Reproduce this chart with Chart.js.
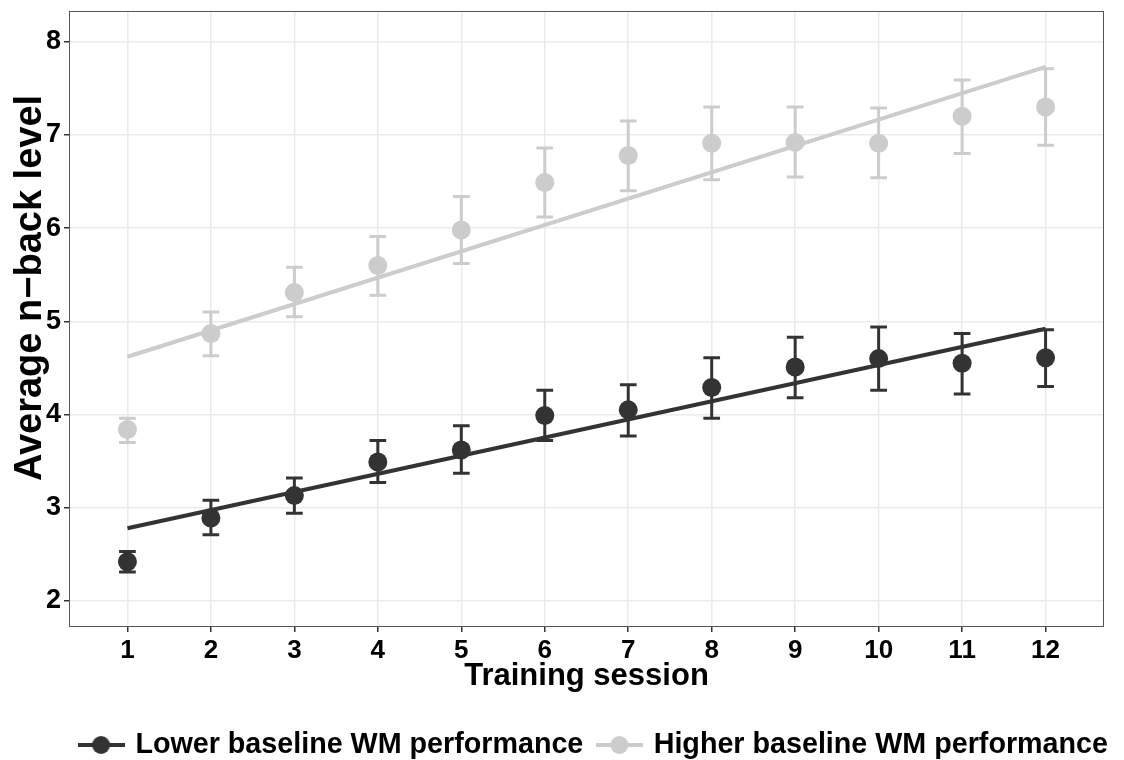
<!DOCTYPE html>
<html>
<head>
<meta charset="utf-8">
<script src="https://cdn.jsdelivr.net/npm/chart.js@4.4.1/dist/chart.umd.min.js"></script>
<style>
  html, body { margin: 0; padding: 0; background: #ffffff; }
  #wrap { width: 1124px; height: 760px; position: relative; }
</style>
</head>
<body>
<div id="wrap"><canvas id="c"></canvas></div>
<script>
// ---- data ----
const sessions = [1, 2, 3, 4, 5, 6, 7, 8, 9, 10, 11, 12];
const yTicks = [2, 3, 4, 5, 6, 7, 8];

const lowMean  = [2.42, 2.89, 3.13, 3.49, 3.62, 3.99, 4.05, 4.29, 4.51, 4.60, 4.55, 4.61];
const lowUpper = [2.53, 3.08, 3.32, 3.72, 3.88, 4.26, 4.32, 4.61, 4.83, 4.94, 4.87, 4.91];
const lowLower = [2.31, 2.71, 2.94, 3.27, 3.37, 3.72, 3.77, 3.96, 4.18, 4.26, 4.22, 4.30];

const highMean  = [3.84, 4.87, 5.31, 5.60, 5.98, 6.49, 6.78, 6.91, 6.92, 6.91, 7.20, 7.30];
const highUpper = [3.96, 5.10, 5.58, 5.91, 6.34, 6.86, 7.15, 7.30, 7.30, 7.29, 7.59, 7.71];
const highLower = [3.70, 4.63, 5.05, 5.28, 5.62, 6.12, 6.40, 6.52, 6.55, 6.54, 6.80, 6.89];

const fitX    = [1, 12];
const lowFit  = [2.78, 4.92];
const highFit = [4.62, 7.73];

const seriesNames = ['Lower baseline WM performance', 'Higher baseline WM performance'];
const xTitle = 'Training session';
const yTitle = 'Average n\u2212back level';

// ---- styles ----
const DARK = '#333333';
const LIGHT = '#cccccc';
const FONT = '"Liberation Sans", Arial, Helvetica, sans-serif';

const toXY = (xs, ys) => xs.map((x, i) => ({ x: x, y: ys[i] }));

function legendSymbol(color) {
  const c = document.createElement('canvas');
  c.width = 47; c.height = 22;
  const g = c.getContext('2d');
  g.strokeStyle = color; g.lineWidth = 4;
  g.beginPath(); g.moveTo(0, 11); g.lineTo(47, 11); g.stroke();
  g.fillStyle = color;
  g.beginPath(); g.arc(23.5, 11, 9, 0, Math.PI * 2); g.fill();
  return c;
}
const symbols = [legendSymbol(DARK), legendSymbol(LIGHT)];

const errorBarPlugin = {
  id: 'errorBars',
  beforeDatasetsDraw(chart, args, opts) {
    const { ctx, scales: { x, y } } = chart;
    ctx.save();
    ctx.lineCap = 'butt';
    chart.data.datasets.forEach((ds, di) => {
      if (!ds.errLo || !chart.isDatasetVisible(di)) return;
      ctx.strokeStyle = ds.borderColor;
      ctx.lineWidth = opts.lineWidth;
      ds.data.forEach((p, i) => {
        const px = x.getPixelForValue(p.x);
        const pl = x.getPixelForValue(p.x - opts.halfWidth);
        const pr = x.getPixelForValue(p.x + opts.halfWidth);
        const top = y.getPixelForValue(ds.errHi[i]);
        const bot = y.getPixelForValue(ds.errLo[i]);
        ctx.beginPath();
        ctx.moveTo(px, top); ctx.lineTo(px, bot);
        ctx.moveTo(pl, top); ctx.lineTo(pr, top);
        ctx.moveTo(pl, bot); ctx.lineTo(pr, bot);
        ctx.stroke();
      });
    });
    ctx.restore();
  }
};

const frameAndTitlePlugin = {
  id: 'frameAndTitle',
  afterDraw(chart) {
    const { ctx, chartArea: a } = chart;
    ctx.save();
    ctx.strokeStyle = '#555555';
    ctx.lineWidth = 1;
    ctx.strokeRect(Math.round(a.left) + 0.5, Math.round(a.top) + 0.5,
                   Math.round(a.right - a.left) - 1, Math.round(a.bottom - a.top) - 1);
    // y axis title
    ctx.translate(31, (a.top + a.bottom) / 2 - 31);
    ctx.rotate(-Math.PI / 2);
    ctx.font = 'bold 38px ' + FONT;
    ctx.fillStyle = '#000000';
    ctx.textAlign = 'center';
    ctx.textBaseline = 'middle';
    ctx.fillText(yTitle, 0, 0);
    ctx.restore();
  }
};

new Chart(document.getElementById('c'), {
  type: 'scatter',
  data: {
    datasets: [
      {
        label: seriesNames[0],
        data: toXY(sessions, lowMean),
        errLo: lowLower, errHi: lowUpper,
        borderColor: DARK, backgroundColor: DARK,
        pointRadius: 9.5, pointHoverRadius: 9.5, pointBorderWidth: 0,
        showLine: false, order: 2
      },
      {
        label: seriesNames[1],
        data: toXY(sessions, highMean),
        errLo: highLower, errHi: highUpper,
        borderColor: LIGHT, backgroundColor: LIGHT,
        pointRadius: 9.5, pointHoverRadius: 9.5, pointBorderWidth: 0,
        showLine: false, order: 2
      },
      {
        type: 'line',
        label: 'fitLow',
        data: toXY(fitX, lowFit),
        borderColor: DARK, borderWidth: 4, pointRadius: 0, fill: false, order: 1
      },
      {
        type: 'line',
        label: 'fitHigh',
        data: toXY(fitX, highFit),
        borderColor: LIGHT, borderWidth: 4, pointRadius: 0, fill: false, order: 1
      }
    ]
  },
  options: {
    responsive: true,
    maintainAspectRatio: false,
    animation: false,
    events: [],
    layout: { padding: { left: 29, right: 0, top: 11, bottom: 0 } },
    plugins: {
      tooltip: { enabled: false },
      errorBars: { lineWidth: 3, halfWidth: 0.1 },
      legend: {
        position: 'bottom',
        align: 'end',
        fullSize: true,
        maxHeight: 45.35,
        labels: {
          usePointStyle: true,
          pointStyleWidth: 40,
          padding: 16,
          color: '#000000',
          font: { family: FONT, size: 28.7, weight: 'bold' },
          generateLabels(chart) {
            return seriesNames.map((name, i) => ({
              text: name,
              pointStyle: symbols[i],
              fillStyle: i === 0 ? DARK : LIGHT,
              strokeStyle: i === 0 ? DARK : LIGHT,
              lineWidth: 0,
              hidden: false,
              datasetIndex: i,
              fontColor: '#000000'
            }));
          }
        }
      }
    },
    scales: {
      x: {
        type: 'linear',
        min: 0.3, max: 12.7,
        afterBuildTicks(s) { s.ticks = sessions.map(v => ({ value: v })); },
        afterFit(s) { s.height = 87.65; s.paddingLeft = 0; s.paddingRight = 20; },
        grid: { color: '#ebebeb', lineWidth: 1.5, tickColor: '#333333', tickLength: 5, drawTicks: true },
        border: { display: false },
        ticks: {
          color: '#000000', padding: 3, maxRotation: 0, autoSkip: false,
          font: { family: FONT, size: 26, weight: 'bold' }
        },
        title: {
          display: true, text: xTitle, color: '#000000',
          font: { family: FONT, size: 31, weight: 'bold' },
          padding: { top: 0, bottom: 20 }
        }
      },
      y: {
        type: 'linear',
        min: 1.72, max: 8.33,
        afterBuildTicks(s) { s.ticks = yTicks.map(v => ({ value: v })); },
        afterFit(s) { s.width = 40; s.paddingTop = 0; s.paddingBottom = 0; },
        grid: { color: '#ebebeb', lineWidth: 1.5, tickColor: '#333333', tickLength: 5, drawTicks: true },
        border: { display: false },
        ticks: {
          color: '#000000', padding: 3,
          font: { family: FONT, size: 27, weight: 'bold' }
        },
        title: { display: false }
      }
    }
  },
  plugins: [errorBarPlugin, frameAndTitlePlugin]
});
</script>
</body>
</html>
